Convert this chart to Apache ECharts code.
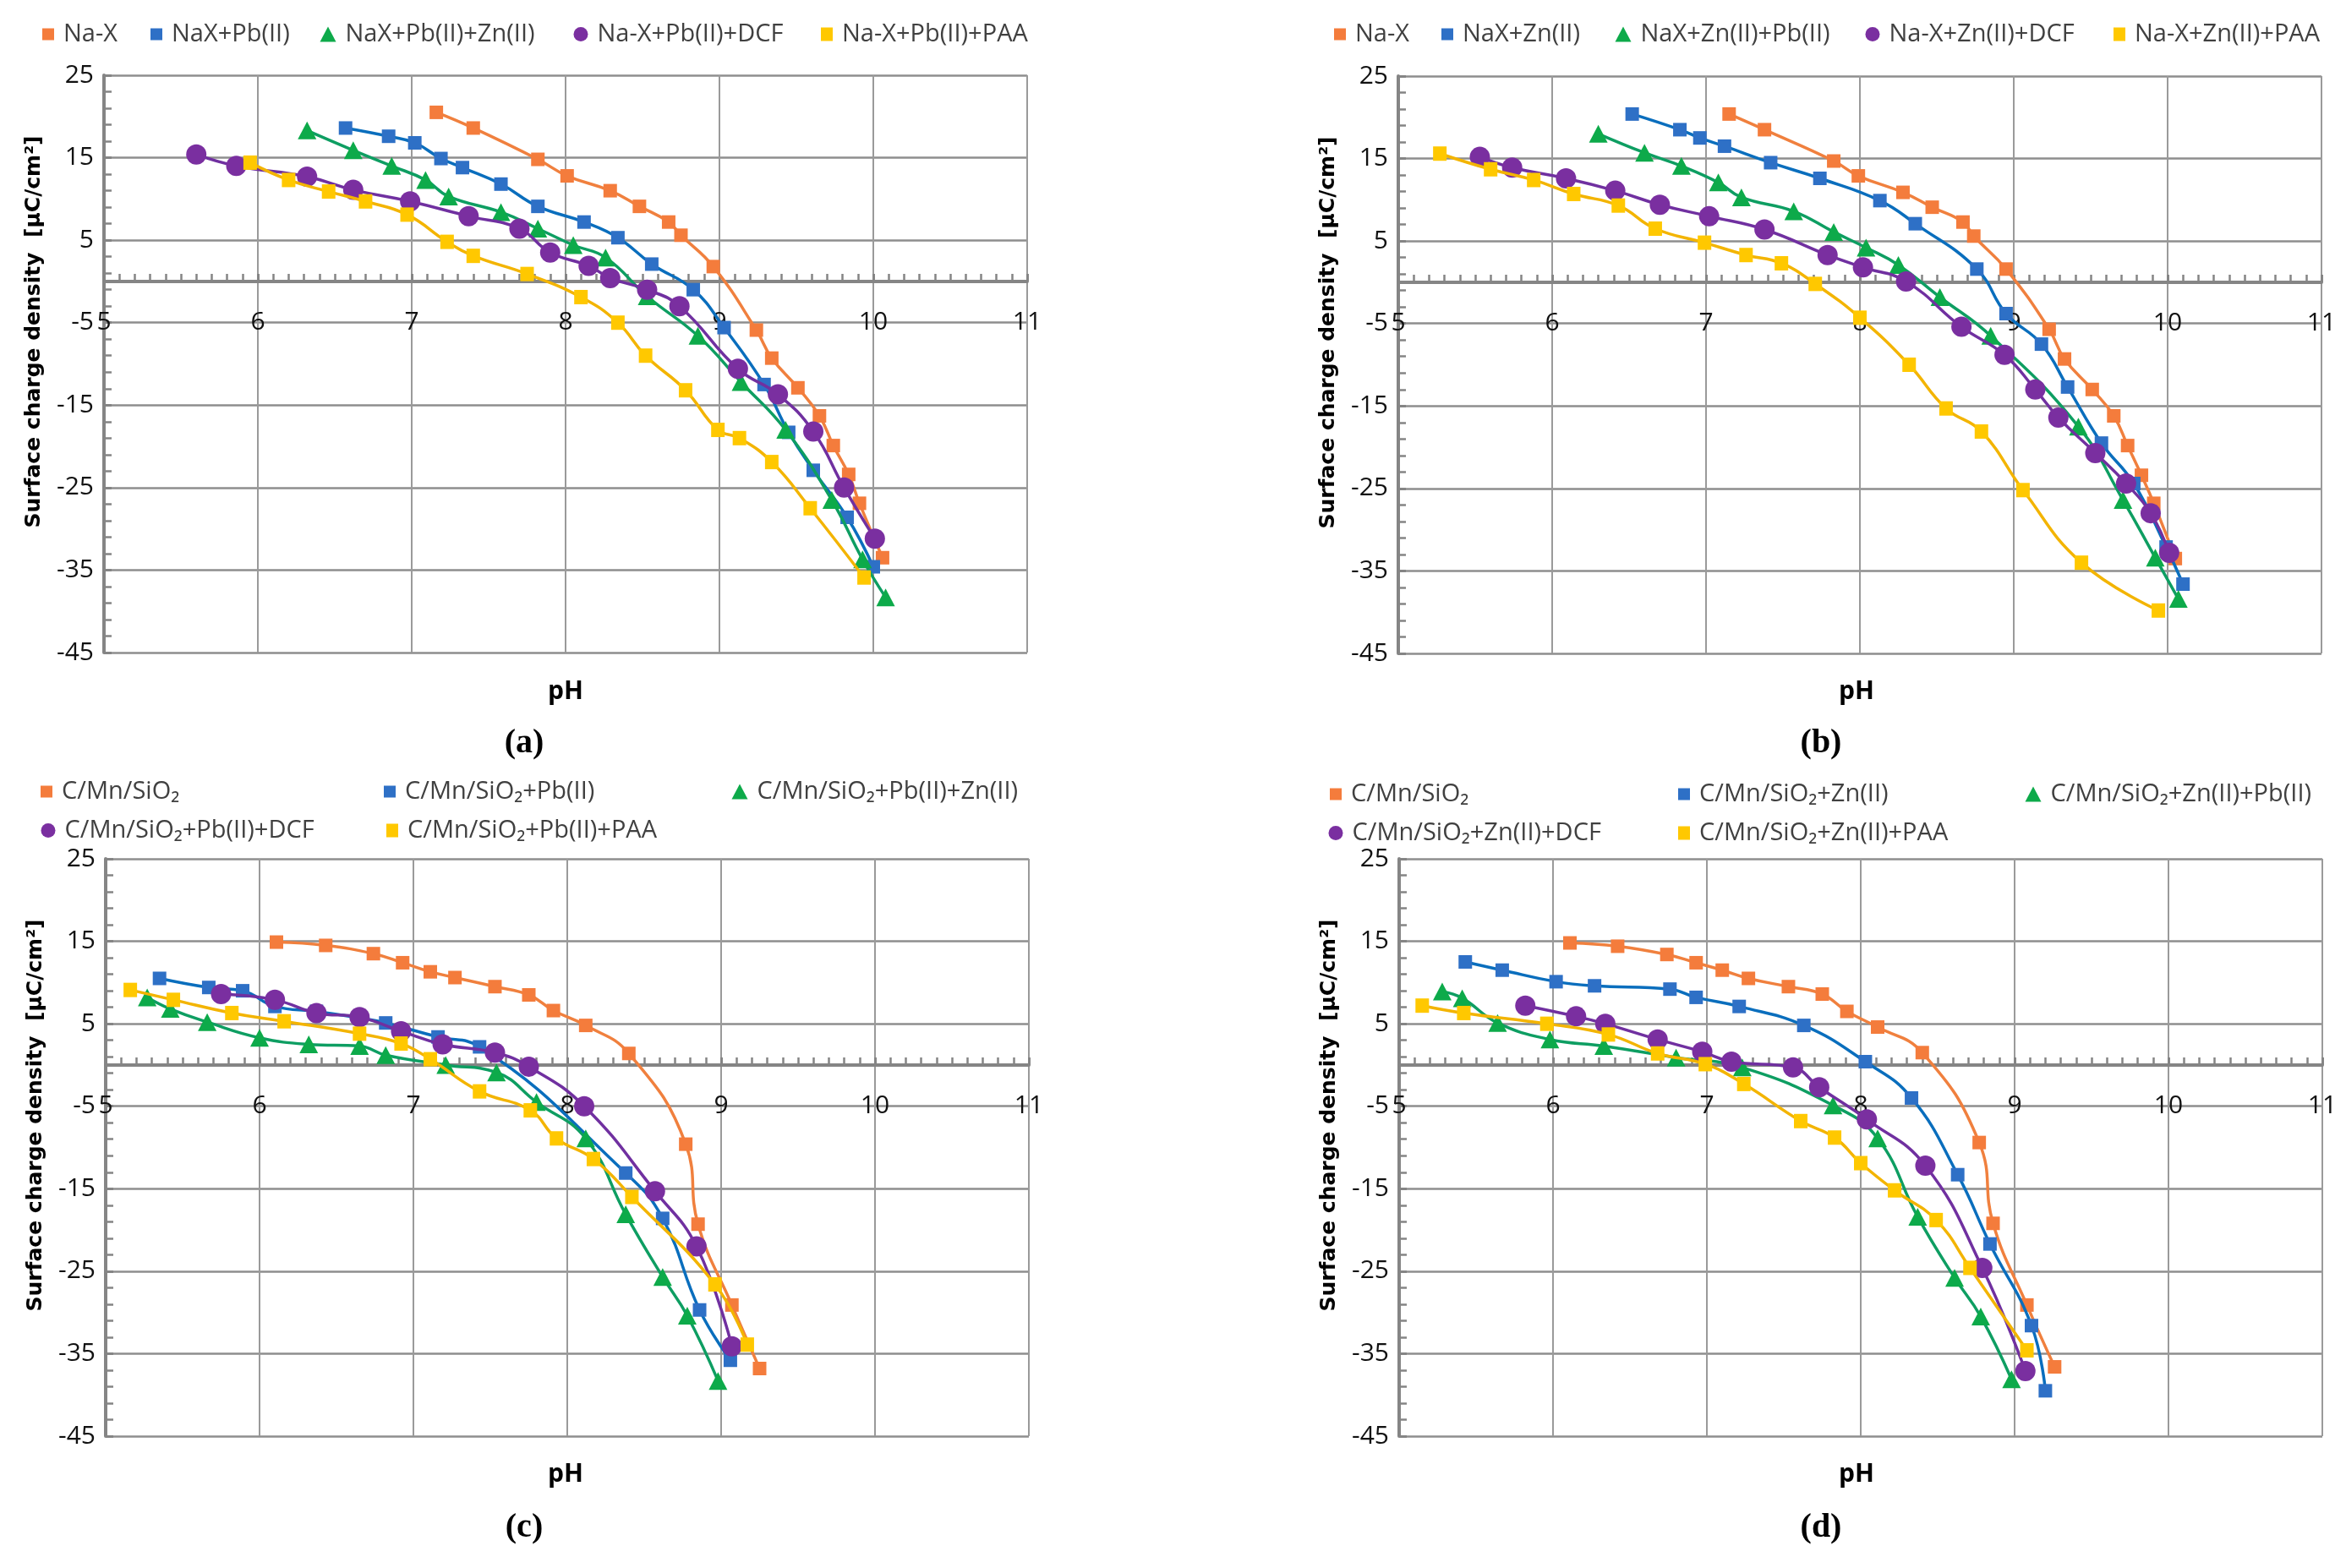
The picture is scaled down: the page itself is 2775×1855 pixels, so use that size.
<!DOCTYPE html>
<html>
<head>
<meta charset="utf-8">
<script src="https://cdn.jsdelivr.net/npm/echarts@6/dist/echarts.min.js"></script>
<style>
html,body{margin:0;padding:0;background:#fff;}
#chart{width:2775px;height:1855px;}
</style>
</head>
<body>
<div id="chart"></div>
<script>
// ---------- data (pH, surface charge density µC/cm²) ----------
const aNaX = [[7.16,20.5],[7.40,18.6],[7.82,14.8],[8.01,12.8],[8.29,11.0],[8.48,9.1],[8.67,7.2],[8.75,5.6],[8.96,1.8],[9.24,-5.9],[9.34,-9.3],[9.51,-12.9],[9.65,-16.3],[9.74,-19.9],[9.84,-23.4],[9.91,-26.9],[10.06,-33.5]];
const aPb = [[6.57,18.6],[6.85,17.6],[7.02,16.8],[7.19,14.9],[7.33,13.8],[7.58,11.8],[7.82,9.1],[8.12,7.2],[8.34,5.3],[8.56,2.1],[8.83,-1.0],[9.03,-5.6],[9.29,-12.5],[9.45,-18.3],[9.61,-22.9],[9.83,-28.6],[10.00,-34.6]];
const aPbZn = [[6.32,18.3],[6.62,15.9],[6.87,14.0],[7.09,12.3],[7.24,10.3],[7.58,8.4],[7.82,6.4],[8.05,4.4],[8.26,2.9],[8.53,-1.8],[8.86,-6.6],[9.14,-12.2],[9.43,-18.0],[9.73,-26.5],[9.93,-33.7],[10.08,-38.3]];
const aDCF = [[5.60,15.4],[5.86,14.0],[6.32,12.7],[6.62,11.1],[6.99,9.7],[7.37,7.9],[7.70,6.4],[7.90,3.5],[8.15,1.9],[8.29,0.4],[8.53,-1.0],[8.74,-3.0],[9.12,-10.6],[9.38,-13.7],[9.61,-18.2],[9.81,-25.0],[10.01,-31.2]];
const aPAA = [[5.95,14.4],[6.20,12.3],[6.46,10.9],[6.70,9.7],[6.97,8.1],[7.23,4.8],[7.40,3.1],[7.75,0.9],[8.10,-1.9],[8.34,-5.0],[8.52,-9.0],[8.78,-13.2],[8.99,-18.0],[9.13,-19.0],[9.34,-21.9],[9.59,-27.5],[9.94,-35.9]];

const bNaX = [[7.15,20.4],[7.38,18.5],[7.83,14.7],[7.99,12.9],[8.28,10.9],[8.47,9.1],[8.67,7.3],[8.74,5.6],[8.95,1.6],[9.23,-5.7],[9.33,-9.3],[9.51,-13.0],[9.65,-16.2],[9.74,-19.8],[9.83,-23.4],[9.91,-26.8],[10.05,-33.5]];
const bZn = [[6.52,20.4],[6.83,18.5],[6.96,17.5],[7.12,16.5],[7.42,14.5],[7.74,12.6],[8.13,9.9],[8.36,7.1],[8.76,1.6],[8.95,-3.8],[9.18,-7.5],[9.35,-12.7],[9.57,-19.5],[9.78,-24.4],[9.99,-32.1],[10.10,-36.6]];
const bZnPb = [[6.30,18.0],[6.60,15.7],[6.84,14.1],[7.08,12.1],[7.23,10.3],[7.57,8.6],[7.83,6.1],[8.04,4.2],[8.25,2.1],[8.52,-1.8],[8.85,-6.5],[9.42,-17.5],[9.71,-26.4],[9.92,-33.4],[10.07,-38.4]];
const bDCF = [[5.53,15.2],[5.74,13.9],[6.09,12.6],[6.41,11.1],[6.70,9.4],[7.02,8.0],[7.38,6.4],[7.79,3.3],[8.02,1.8],[8.30,0.1],[8.66,-5.4],[8.94,-8.8],[9.14,-13.0],[9.29,-16.4],[9.53,-20.7],[9.73,-24.4],[9.89,-28.0],[10.01,-32.8]];
const bPAA = [[5.27,15.6],[5.60,13.7],[5.88,12.4],[6.14,10.7],[6.43,9.3],[6.67,6.5],[6.99,4.8],[7.26,3.3],[7.49,2.3],[7.71,-0.2],[8.00,-4.3],[8.32,-10.0],[8.56,-15.3],[8.79,-18.1],[9.06,-25.2],[9.44,-34.0],[9.94,-39.8]];

const cC = [[6.11,14.9],[6.43,14.5],[6.74,13.5],[6.93,12.4],[7.11,11.3],[7.27,10.6],[7.53,9.5],[7.75,8.5],[7.91,6.6],[8.12,4.8],[8.40,1.4],[8.77,-9.6],[8.85,-19.3],[9.07,-29.1],[9.25,-36.8]];
const cPb = [[5.35,10.5],[5.67,9.4],[5.89,9.0],[6.10,7.1],[6.37,6.5],[6.65,5.7],[6.82,5.1],[7.16,3.4],[7.43,2.2],[8.38,-13.1],[8.62,-18.6],[8.86,-29.7],[9.06,-35.8]];
const cPbZn = [[5.27,8.2],[5.42,6.8],[5.66,5.2],[6.00,3.3],[6.32,2.5],[6.65,2.3],[6.82,1.2],[7.21,0.0],[7.54,-0.9],[7.80,-4.5],[8.12,-8.9],[8.38,-18.1],[8.62,-25.7],[8.78,-30.4],[8.98,-38.3]];
const cDCF = [[5.75,8.6],[6.10,7.9],[6.37,6.3],[6.65,5.8],[6.92,4.1],[7.19,2.5],[7.53,1.5],[7.75,-0.2],[8.11,-5.0],[8.57,-15.3],[8.84,-22.0],[9.07,-34.1]];
const cPAA = [[5.16,9.1],[5.44,7.9],[5.82,6.3],[6.16,5.3],[6.65,3.8],[6.92,2.6],[7.11,0.7],[7.43,-3.2],[7.76,-5.5],[7.93,-8.9],[8.17,-11.4],[8.42,-16.0],[8.96,-26.6],[9.17,-33.9]];

const dC = [[6.11,14.8],[6.42,14.4],[6.74,13.4],[6.93,12.4],[7.10,11.5],[7.27,10.5],[7.53,9.5],[7.75,8.6],[7.91,6.5],[8.11,4.6],[8.40,1.5],[8.77,-9.4],[8.86,-19.2],[9.08,-29.1],[9.26,-36.6]];
const dZn = [[5.43,12.5],[5.67,11.5],[6.02,10.1],[6.27,9.6],[6.76,9.2],[6.93,8.2],[7.21,7.1],[7.63,4.8],[8.03,0.4],[8.33,-4.0],[8.63,-13.3],[8.84,-21.7],[9.11,-31.6],[9.20,-39.5]];
const dZnPb = [[5.28,8.9],[5.41,8.1],[5.64,5.1],[5.98,3.1],[6.33,2.3],[6.80,0.9],[7.23,-0.3],[7.82,-4.9],[8.11,-8.9],[8.37,-18.4],[8.61,-25.8],[8.78,-30.5],[8.98,-38.1]];
const dDCF = [[5.82,7.2],[6.15,5.9],[6.34,5.0],[6.68,3.1],[6.97,1.6],[7.16,0.4],[7.56,-0.3],[7.73,-2.7],[8.04,-6.6],[8.42,-12.2],[8.79,-24.6],[9.07,-37.1]];
const dPAA = [[5.15,7.2],[5.42,6.3],[5.96,5.0],[6.36,3.7],[6.68,1.4],[6.99,0.1],[7.24,-2.3],[7.61,-6.8],[7.83,-8.8],[8.00,-11.9],[8.22,-15.2],[8.49,-18.8],[8.71,-24.6],[9.08,-34.6]];

const namesA = ['Na-X','NaX+Pb(II)','NaX+Pb(II)+Zn(II)','Na-X+Pb(II)+DCF','Na-X+Pb(II)+PAA'];
const namesB = ['Na-X','NaX+Zn(II)','NaX+Zn(II)+Pb(II)','Na-X+Zn(II)+DCF','Na-X+Zn(II)+PAA'];
const namesC = ['C/Mn/SiO₂','C/Mn/SiO₂+Pb(II)','C/Mn/SiO₂+Pb(II)+Zn(II)','C/Mn/SiO₂+Pb(II)+DCF','C/Mn/SiO₂+Pb(II)+PAA'];
const namesD = ['C/Mn/SiO₂','C/Mn/SiO₂+Zn(II)','C/Mn/SiO₂+Zn(II)+Pb(II)','C/Mn/SiO₂+Zn(II)+DCF','C/Mn/SiO₂+Zn(II)+PAA'];
const panelLabels = ['(a)','(b)','(c)','(d)'];
const xAxisTitle = 'pH';
const yAxisTitle = 'Surface charge density  [μC/cm²]';

// ---------- styling ----------
const panels = [
  {data:[aNaX,aPb,aPbZn,aDCF,aPAA], names:namesA},
  {data:[bNaX,bZn,bZnPb,bDCF,bPAA], names:namesB},
  {data:[cC,cPb,cPbZn,cDCF,cPAA], names:namesC},
  {data:[dC,dZn,dZnPb,dDCF,dPAA], names:namesD}
];
const gridPos = [
  {left:123, top:89}, {left:1654, top:90}, {left:125, top:1016}, {left:1655, top:1016}
];
const GW = 1092, GH = 683;
const markerColors = ['#F47C3C','#2E70C6','#0DAA4A','#7A2FA0','#FFC800'];
const lineColors   = ['#F0803E','#0A6EBD','#0E9E62','#7030A0','#F3B400'];
const symbols = ['rect','rect','triangle','circle','rect'];
const symbolSizes = [[16,16],[16,16],[22,21],[24,24],[16,17]];
const legendIconSize = [[14,14],[14,14],[19,18],[17,19],[14,16]];
// legend item icon centre positions per panel
const legendPos = [
  [[57,46],[185,46],[388,46],[687,46],[978,46]],
  [[1585,46],[1712,46],[1920,46],[2215,46],[2507,46]],
  [[55,942],[461,942],[875,942],[57,988],[464,988]],
  [[1580,945],[1992,945],[2405,945],[1580,991],[1992,991]]
];
const xTitlePos = [[669,818],[2196,818],[669,1744],[2196,1744]];
const panelLabelPos = [[620,880],[2154,880],[620,1808],[2154,1808]];

const axisGray = '#858585';
const gridGray = '#9a9a9a';

const grids = [], xAxes = [], yAxes = [], series = [], legends = [], graphics = [];
panels.forEach((p, i) => {
  grids.push({left: gridPos[i].left, top: gridPos[i].top, width: GW, height: GH, containLabel:false});
  xAxes.push({
    type:'value', gridIndex:i, min:5, max:11, interval:1,
    axisLine:{show:true, onZero:true, lineStyle:{color:axisGray, width:4}},
    axisTick:{show:true, inside:true, length:9, lineStyle:{color:axisGray, width:3}},
    minorTick:{show:true, splitNumber:10, length:9, lineStyle:{color:axisGray, width:2.5}},
    splitLine:{show:true, lineStyle:{color:gridGray, width:2}},
    axisLabel:{margin:-406, fontSize:30, color:'#111', fontFamily:'Open Sans'}
  });
  yAxes.push({
    type:'value', gridIndex:i, min:-45, max:25, interval:10,
    axisLine:{show:true, onZero:false, lineStyle:{color:axisGray, width:4}},
    axisTick:{show:true, inside:true, length:9, lineStyle:{color:axisGray, width:3}},
    minorTick:{show:true, splitNumber:5, length:9, lineStyle:{color:axisGray, width:2.5}},
    splitLine:{show:true, lineStyle:{color:'#8e8e8e', width:2.5}},
    axisLabel:{margin:12, fontSize:30, color:'#111', fontFamily:'Open Sans'},
    name: yAxisTitle, nameLocation:'middle', nameGap:70, nameRotate:90,
    nameTextStyle:{fontFamily:'DejaVu Sans', fontWeight:'bold', fontSize:25, color:'#000', padding:[0,0,0,76]}
  });
  p.data.forEach((d, k) => {
    series.push({
      type:'line', name:p.names[k], xAxisIndex:i, yAxisIndex:i, data:d,
      smooth:0.45,
      symbol:symbols[k], symbolSize:symbolSizes[k], showAllSymbol:true,
      itemStyle:{color:markerColors[k]},
      lineStyle:{color:lineColors[k], width:3.5},
      z: 2 + k
    });
    const [cx, cy] = legendPos[i][k];
    const [iw, ih] = legendIconSize[k];
    legends.push({
      show:true, orient:'horizontal', left: cx - iw/2, top: cy - 20, padding:0,
      itemWidth: iw, itemHeight: ih, selectedMode:false,
      textStyle:{fontSize:29, color:'#404040', fontFamily:'Open Sans', padding:[0,0,0,6]},
      data:[{name:p.names[k], icon:symbols[k], itemStyle:{color:markerColors[k]}}]
    });
  });
  graphics.push({type:'text', x:xTitlePos[i][0], y:xTitlePos[i][1],
    style:{text:xAxisTitle, textAlign:'center', textVerticalAlign:'middle',
      font:'bold 30px "Open Sans", sans-serif', fill:'#000'}});
  graphics.push({type:'text', x:panelLabelPos[i][0], y:panelLabelPos[i][1],
    style:{text:panelLabels[i], textAlign:'center', textVerticalAlign:'middle',
      font:'bold 40px "Liberation Serif", serif', fill:'#000'}});
});

const chart = echarts.init(document.getElementById('chart'), null, {renderer:'canvas'});
chart.setOption({
  backgroundColor:'#ffffff',
  animation:false,
  grid: grids, xAxis: xAxes, yAxis: yAxes, series: series, legend: legends,
  graphic: graphics
});
</script>
</body>
</html>
